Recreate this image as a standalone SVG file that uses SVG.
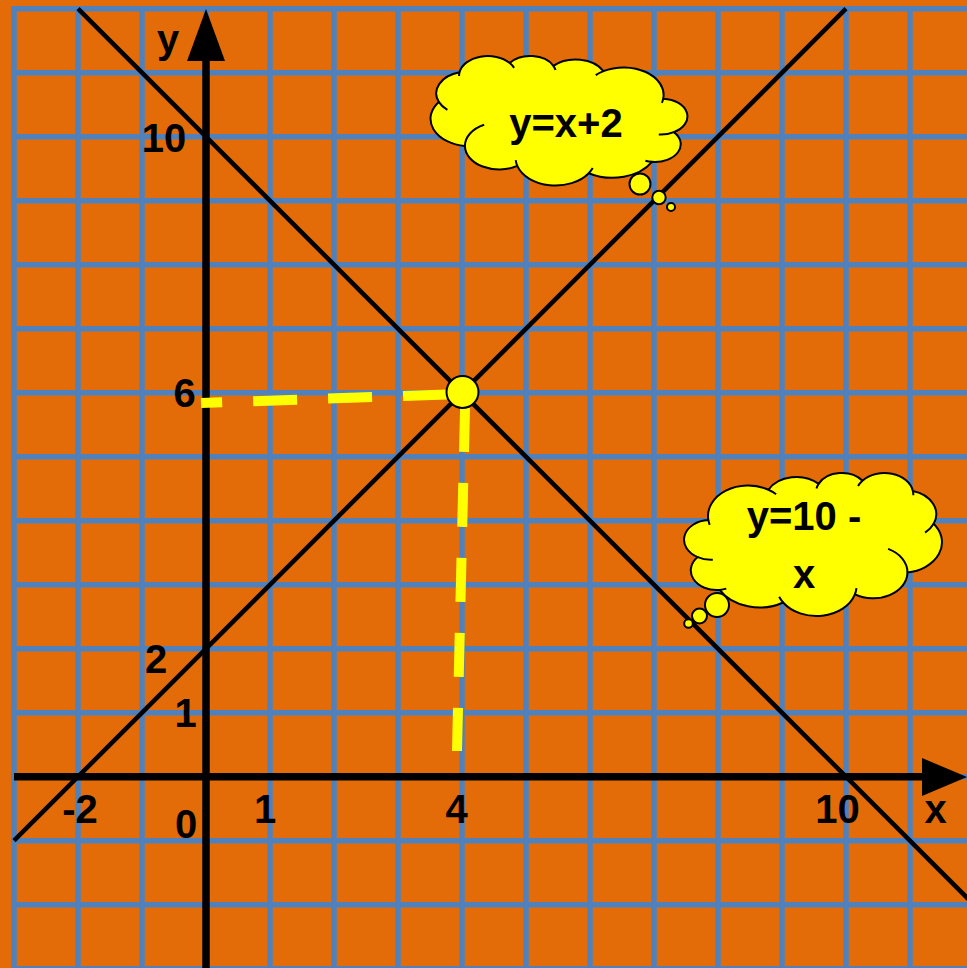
<svg xmlns="http://www.w3.org/2000/svg" width="967" height="968" viewBox="0 0 967 968">
<style>
.grid{stroke:#4F81BD;stroke-width:5.5;fill:none}
.graph{stroke:#000;stroke-width:4.5;fill:none}
.axis{stroke:#000;stroke-width:7.5;fill:none}
.guide{stroke:#FFFF00;stroke-width:10;fill:none;stroke-dasharray:44 31}
.lbl{font-family:"Liberation Sans",Arial,sans-serif;font-weight:bold;font-size:40px;fill:#000;text-anchor:middle}
.cloud{fill:#FFFF00;stroke:#000;stroke-width:2;stroke-linejoin:round}
.cloudline{fill:none;stroke:#000;stroke-width:2}
.bubble{fill:#FFFF00;stroke:#000;stroke-width:2}
</style>
<defs>
<path id="cloudShape" class="cloud" vector-effect="non-scaling-stroke" d="M3900 14370 A6753 9190 0 0 1 14007 5203 A5333 7267 0 0 1 22458 3435 A4365 5945 0 0 1 29836 2483 A4857 6595 0 0 1 38321 5578 A5333 7273 0 0 1 41821 15462 A6775 9220 0 0 1 37408 30206 A5785 7867 0 0 1 28560 36816 A6752 9215 0 0 1 16484 39268 A7720 10543 0 0 1 5807 35474 A4360 5918 0 0 1 2114 25555 A4345 5945 0 0 1 3900 14370 Z"/>
<path id="cloudInner" class="cloudline" vector-effect="non-scaling-stroke" d="M4647 26352 A4345 5945 0 0 1 2114 25555 M6916 35092 A4360 5918 0 0 1 5807 35474 M16484 39268 A6752 9215 0 0 1 15816 37527 M28826 34907 A6752 9215 0 0 1 28560 36816 M34156 23070 A5785 7867 0 0 1 37408 30206 M41821 15462 A5333 7273 0 0 1 40373 18139 M38321 5578 A4857 6595 0 0 1 38397 6842 M29094 4096 A4857 6595 0 0 1 29836 2483 M22099 4824 A4365 5945 0 0 1 22458 3435 M14007 5203 A6753 9190 0 0 1 15305 6551 M4127 15789 A6753 9190 0 0 1 3900 14370"/>
</defs>
<rect id="background" x="0" y="0" width="967" height="968" fill="#E36C09"/>
<g id="grid">
<path class="grid" d="M14 6V968M78 6V968M142 6V968M206 6V968M270 6V968M334 6V968M398 6V968M462 6V968M526 6V968M590 6V968M654 6V968M718 6V968M782 6V968M846 6V968M910 6V968"/>
<path class="grid" d="M11.25 8.7H967M11.25 72.7H967M11.25 136.7H967M11.25 200.7H967M11.25 264.7H967M11.25 328.7H967M11.25 392.7H967M11.25 456.7H967M11.25 520.7H967M11.25 584.7H967M11.25 648.7H967M11.25 712.7H967M11.25 776.7H967M11.25 840.7H967M11.25 904.7H967M11.25 968.7H967"/>
</g>
<g id="connectors">
<line id="line-y-x-plus-2" class="graph" x1="14" y1="840.7" x2="846" y2="8.7"/>
<line id="line-y-10-minus-x" class="graph" x1="78" y1="8.7" x2="974" y2="904.7"/>
<g id="axes">
<line class="axis" x1="14" y1="776.7" x2="924" y2="776.7"/>
<polygon points="922,758 967,777 922,796" fill="#000"/>
<line class="axis" x1="206" y1="968" x2="206" y2="59"/>
<polygon points="187,61 206,9 225,61" fill="#000"/>
</g>
<path id="guide-h" class="guide" d="M447 394.5L201 403"/>
<path id="guide-v" class="guide" d="M465 408L457 751"/>
</g>
<g id="intersection">
<circle cx="462.5" cy="392" r="16" fill="#FFFF00" stroke="#000" stroke-width="2"/>
</g>
<g id="cloud-y-x-plus-2">
<g transform="translate(686.3,55.57) scale(-0.005918,0.0029965)">
<use href="#cloudShape"/>
<use href="#cloudInner"/>
</g>
<circle class="bubble" cx="640" cy="184" r="10.5"/>
<circle class="bubble" cx="659" cy="197.5" r="6.7"/>
<circle class="bubble" cx="671" cy="207" r="4"/>
<text class="lbl" x="566" y="137">y=x+2</text>
</g>
<g id="cloud-y-10-minus-x">
<g transform="translate(685.2,472.53) scale(0.005941,0.003309)">
<use href="#cloudShape"/>
<use href="#cloudInner"/>
</g>
<circle class="bubble" cx="717" cy="605" r="12"/>
<circle class="bubble" cx="699.5" cy="616" r="7.5"/>
<circle class="bubble" cx="688.5" cy="623.5" r="4.3"/>
<text class="lbl" x="804" y="530">y=10 -</text>
<text class="lbl" x="804" y="588">x</text>
</g>
<g id="labels">
<text class="lbl" x="168" y="53">y</text>
<text class="lbl" x="164" y="152">10</text>
<text class="lbl" x="184.5" y="407">6</text>
<text class="lbl" x="156" y="673">2</text>
<text class="lbl" x="185.5" y="727">1</text>
<text class="lbl" x="80" y="823">-2</text>
<text class="lbl" x="186" y="838">0</text>
<text class="lbl" x="265" y="823">1</text>
<text class="lbl" x="456.5" y="823">4</text>
<text class="lbl" x="837.5" y="823">10</text>
<text class="lbl" x="935.5" y="823">x</text>
</g>
</svg>
